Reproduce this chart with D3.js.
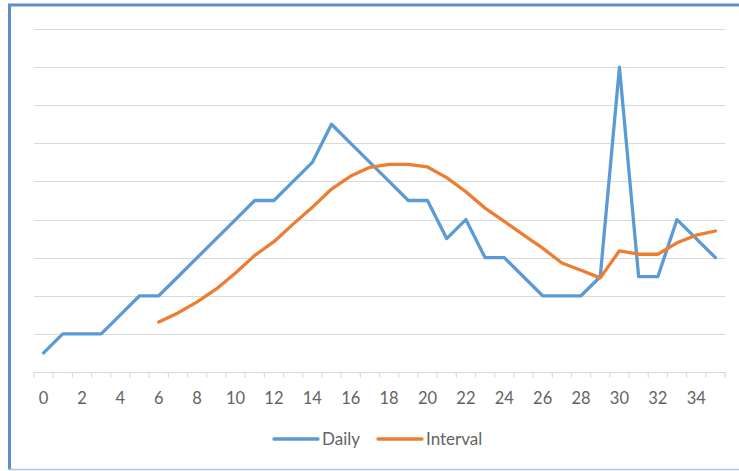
<!DOCTYPE html>
<html>
<head>
<meta charset="utf-8">
<script src="https://cdn.jsdelivr.net/npm/d3@7"></script>
<style>
  html, body { margin: 0; padding: 0; background: #fff; }
  svg { display: block; font-family: Lato, "Open Sans", sans-serif; }
</style>
</head>
<body>
<svg id="chart" width="739" height="471"></svg>
<script>
// Day index along the x axis
const days = d3.range(0, 36);

// Daily counts (gridline units)
const daily = [0.5, 1, 1, 1, 1.5, 2, 2, 2.5, 3, 3.5, 4, 4.5, 4.5, 5, 5.5, 6.5,
               6, 5.5, 5, 4.5, 4.5, 3.5, 4, 3, 3, 2.5, 2, 2, 2, 2.5, 8, 2.5,
               2.5, 4, 3.5, 3];

// Interval average, starts at day 6
const interval = [null, null, null, null, null, null,
                  1.31, 1.55, 1.84, 2.18, 2.6, 3.06, 3.42, 3.88, 4.32, 4.8,
                  5.14, 5.37, 5.45, 5.45, 5.38, 5.1, 4.73, 4.3, 3.95, 3.6,
                  3.25, 2.86, 2.67, 2.47, 3.18, 3.09, 3.09, 3.39, 3.59, 3.7];

const tickLabels = d3.range(0, 36, 2);
const gridValues = d3.range(1, 10);

const seriesNames = ["Daily", "Interval"];
const seriesColors = ["#5B9BD5", "#ED7D31"];

const svg = d3.select("#chart");

// Chart frame
svg.append("line").attr("x1", 9.5).attr("x2", 9.5).attr("y1", 4).attr("y2", 470)
  .attr("stroke", "#5B8FCB").attr("stroke-width", 3);
svg.append("line").attr("x1", 8).attr("x2", 739).attr("y1", 5).attr("y2", 5)
  .attr("stroke", "#5B8FCB").attr("stroke-width", 3);
svg.append("line").attr("x1", 8).attr("x2", 739).attr("y1", 469.5).attr("y2", 469.5)
  .attr("stroke", "#A9C4E4").attr("stroke-width", 1.5);

const x = d3.scaleBand().domain(days).range([34, 725]).padding(0);
const y = d3.scaleLinear().domain([0, 9]).range([372, 29]);
const cx = d => x(d) + x.bandwidth() / 2;

// Horizontal gridlines
svg.append("g").selectAll("line").data(gridValues).join("line")
  .attr("x1", 34).attr("x2", 725)
  .attr("y1", d => Math.round(y(d)) + 0.5).attr("y2", d => Math.round(y(d)) + 0.5)
  .attr("stroke", "#D9D9D9").attr("stroke-width", 1.2);

// X axis: line, boundary tick marks, labels on even days
const axisY = Math.round(y(0)) + 0.5;
svg.append("line").attr("x1", 34).attr("x2", 726).attr("y1", axisY).attr("y2", axisY)
  .attr("stroke", "#D9D9D9").attr("stroke-width", 1.2);
const boundaries = days.map(d => x(d)).concat([x(35) + x.bandwidth()]);
svg.append("g").selectAll("line").data(boundaries).join("line")
  .attr("x1", d => d).attr("x2", d => d)
  .attr("y1", axisY).attr("y2", axisY + 5)
  .attr("stroke", "#D9D9D9").attr("stroke-width", 1.2);

const axis = d3.axisBottom(x).tickValues(tickLabels).tickSize(0).tickPadding(0);
const gAxis = svg.append("g").attr("transform", `translate(0,${axisY})`).call(axis);
gAxis.select(".domain").remove();
gAxis.selectAll("text")
  .attr("y", 31).attr("dy", null)
  .attr("fill", "#636363").style("font-size", "16.5px")
  .style("font-family", "Lato, 'Open Sans', sans-serif");

// Series lines
const line = d3.line()
  .defined(d => d.v !== null)
  .x(d => cx(d.day))
  .y(d => y(d.v));

[daily, interval].forEach((vals, i) => {
  svg.append("path")
    .datum(days.map((day, k) => ({ day, v: vals[k] })))
    .attr("d", line)
    .attr("fill", "none")
    .attr("stroke", seriesColors[i])
    .attr("stroke-width", 3.3)
    .attr("stroke-linejoin", "round")
    .attr("stroke-linecap", "round");
});

// Legend
const legendItems = [
  { name: seriesNames[0], color: seriesColors[0], x: 274 },
  { name: seriesNames[1], color: seriesColors[1], x: 378 }
];
const lg = svg.append("g").selectAll("g").data(legendItems).join("g")
  .attr("transform", d => `translate(${d.x},439)`);
lg.append("line").attr("x1", 0).attr("x2", 44).attr("y1", 0).attr("y2", 0)
  .attr("stroke", d => d.color).attr("stroke-width", 3.3).attr("stroke-linecap", "round");
lg.append("text").attr("x", 48).attr("y", 6)
  .attr("fill", "#636363").style("font-size", "17px")
  .text(d => d.name);
</script>
</body>
</html>
